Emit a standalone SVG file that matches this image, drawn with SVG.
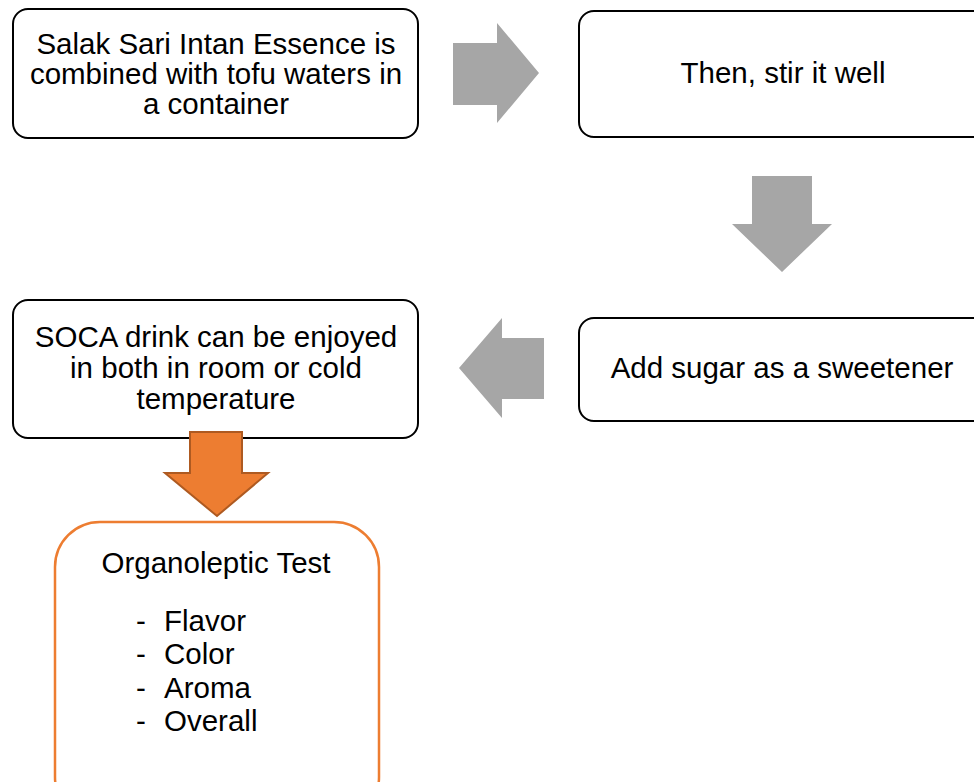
<svg xmlns="http://www.w3.org/2000/svg" width="974" height="782" viewBox="0 0 974 782">
<style>
.box{fill:#fff;stroke:#000;stroke-width:2}
.obox{fill:#fff;stroke:#ED7D31;stroke-width:2.5}
.t{font-family:"Liberation Sans",Arial,Helvetica,sans-serif;font-size:29.5px;fill:#000;text-anchor:middle}
.l{font-family:"Liberation Sans",Arial,Helvetica,sans-serif;font-size:29.5px;fill:#000}
.ga{fill:#A6A6A6}
.oa{fill:#ED7D31;stroke:#AE5A21;stroke-width:2;stroke-linejoin:miter}
</style>
<rect width="974" height="782" fill="#fff"/>
<g id="n1">
<rect class="box" x="13" y="9" width="405" height="129" rx="15"/>
<text class="t" x="216" y="54">Salak Sari Intan Essence is</text>
<text class="t" x="216" y="84">combined with tofu waters in</text>
<text class="t" x="216" y="114">a container</text>
</g>
<g id="n2">
<rect class="box" x="579" y="11" width="410" height="126" rx="15"/>
<text class="t" x="783" y="83">Then, stir it well</text>
</g>
<g id="n3">
<rect class="box" x="579" y="318" width="410" height="103" rx="15"/>
<text class="t" x="782" y="378">Add sugar as a sweetener</text>
</g>
<g id="n4">
<rect class="box" x="13" y="300" width="405" height="138" rx="15"/>
<text class="t" x="216" y="347">SOCA drink can be enjoyed</text>
<text class="t" x="216" y="378">in both in room or cold</text>
<text class="t" x="216" y="409">temperature</text>
</g>
<g id="n5">
<rect class="obox" x="55" y="522" width="324" height="300" rx="45"/>
<text class="t" x="216" y="573">Organoleptic Test</text>
<text class="l" x="136" y="631">-</text><text class="l" x="164" y="631">Flavor</text>
<text class="l" x="136" y="664">-</text><text class="l" x="164" y="664">Color</text>
<text class="l" x="136" y="698">-</text><text class="l" x="164" y="698">Aroma</text>
<text class="l" x="136" y="731">-</text><text class="l" x="164" y="731">Overall</text>
</g>
<g id="connectors">
<polygon class="ga" points="453,43 497,43 497,23 539,73 497,123 497,105 453,105"/>
<polygon class="ga" points="752,176 812,176 812,224 832,224 782,272 732,224 752,224"/>
<polygon class="ga" points="544,338 502,338 502,318 459,368 502,418 502,399 544,399"/>
<polygon class="oa" points="190,432 242,432 242,473 268,473 217,516 165,473 190,473"/>
</g>
</svg>
